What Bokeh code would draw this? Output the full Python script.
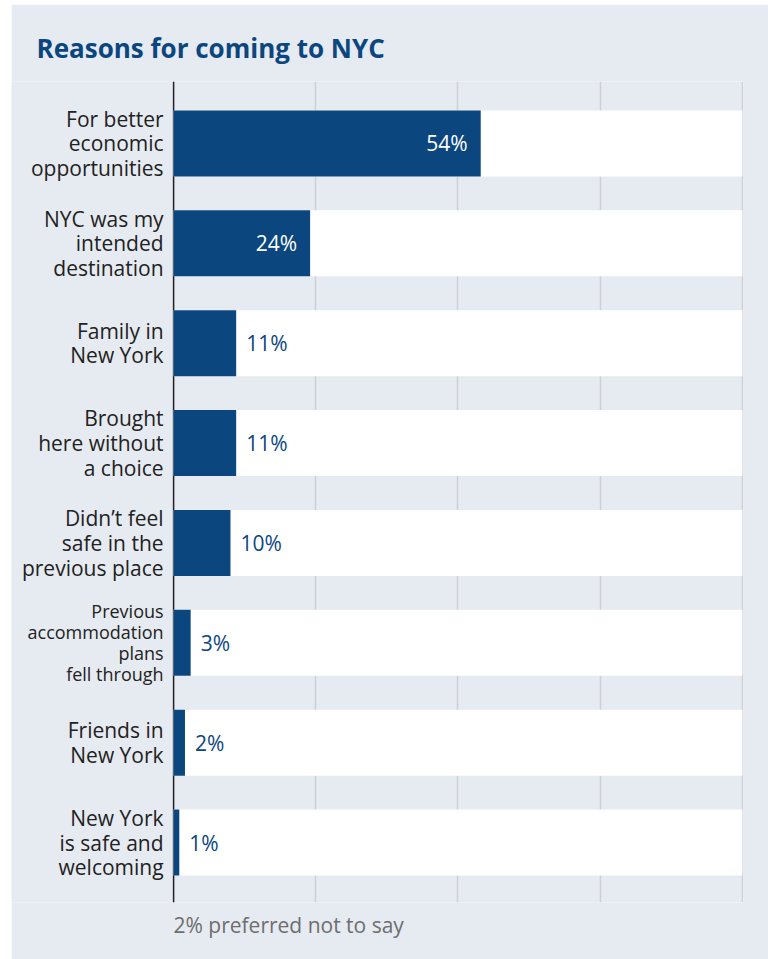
from bokeh.plotting import figure
from bokeh.models import Range1d, ColumnDataSource, Span, Title, FixedTicker
from bokeh.core.properties import value
from bokeh.embed import file_html
from bokeh.resources import INLINE

# --- data ---------------------------------------------------------------
reasons = [
    "For better\neconomic\nopportunities",
    "NYC was my\nintended\ndestination",
    "Family in\nNew York",
    "Brought\nhere without\na choice",
    "Didn\u2019t feel\nsafe in the\nprevious place",
    "Previous\naccommodation\nplans\nfell through",
    "Friends in\nNew York",
    "New York\nis safe and\nwelcoming",
]
shares = [54, 24, 11, 11, 10, 3, 2, 1]
x_ticks = [0, 25, 50, 75, 100]
title_text = "Reasons for coming to NYC"
note_text = "2% preferred not to say"

# --- styling ------------------------------------------------------------
BG = "#e6eaf1"
BLUE = "#0b467f"
GRID = "#cdd1d7"
TEXT = "#222222"
NOTE = "#6e6e6e"
FONT = "Open Sans"

rows = list(range(len(reasons)))
# four-line labels are set a little smaller so they fit the band
label_sizes = ["18px" if r.count("\n") >= 3 else "21px" for r in reasons]

src = ColumnDataSource(dict(
    y=rows,
    reason=reasons,
    share=shares,
    track=[x_ticks[-1]] * len(rows),
    size=label_sizes,
))

p = figure(
    width=757, height=955,
    x_range=Range1d(-28.5, 100.2),
    y_range=Range1d(7.6, -0.62),
    output_backend="svg", toolbar_location=None,
    min_border_left=0, min_border_right=25,
    min_border_top=77, min_border_bottom=57,
    background_fill_color=BG, border_fill_color=BG,
    outline_line_color=None,
    margin=(4, 0, 0, 11),
)

p.xaxis.visible = False
p.yaxis.visible = False
p.ygrid.visible = False
p.xgrid.ticker = FixedTicker(ticks=x_ticks[1:])
p.xgrid.grid_line_color = GRID
p.xgrid.grid_line_width = 1.5

# baseline at 0%
p.add_layout(Span(location=x_ticks[0], dimension="height",
                  line_color=TEXT, line_width=1.5, level="underlay"))

# white tracks to 100% and the share bars on top
p.hbar(y="y", left=0, right="track", height=0.66, source=src,
       fill_color="white", line_color=None)
p.hbar(y="y", left=0, right="share", height=0.66, source=src,
       fill_color=BLUE, line_color=None)

# category labels to the left of the baseline
p.text(x=0, y="y", text="reason", source=src, x_offset=-10,
       text_align="right", text_baseline="middle",
       text_font=value(FONT), text_font_size="size",
       text_color=TEXT, text_line_height=0.88)

# value labels: inside long bars, outside short ones
inside = [i for i, s in enumerate(shares) if s >= 20]
outside = [i for i, s in enumerate(shares) if s < 20]
src_in = ColumnDataSource(dict(y=[rows[i] for i in inside],
                               x=[shares[i] for i in inside],
                               t=[f"{shares[i]}%" for i in inside]))
src_out = ColumnDataSource(dict(y=[rows[i] for i in outside],
                                x=[shares[i] for i in outside],
                                t=[f"{shares[i]}%" for i in outside]))
p.text(x="x", y="y", text="t", source=src_in, x_offset=-13,
       text_align="right", text_baseline="middle",
       text_font=value(FONT), text_font_size="21px", text_color="white")
p.text(x="x", y="y", text="t", source=src_out, x_offset=10,
       text_align="left", text_baseline="middle",
       text_font=value(FONT), text_font_size="21px", text_color=BLUE)

# title and footnote
p.title.text = title_text
p.title.text_font = FONT
p.title.text_font_size = "26px"
p.title.text_font_style = "bold"
p.title.text_color = BLUE
p.title.align = "left"
p.title.offset = 25
p.title.standoff = 31

p.add_layout(Title(text=note_text, align="left", offset=162, standoff=13,
                   text_font=FONT, text_font_size="21px",
                   text_font_style="normal", text_color=NOTE), "below")

open("out.html", "w").write(file_html(p, INLINE))
